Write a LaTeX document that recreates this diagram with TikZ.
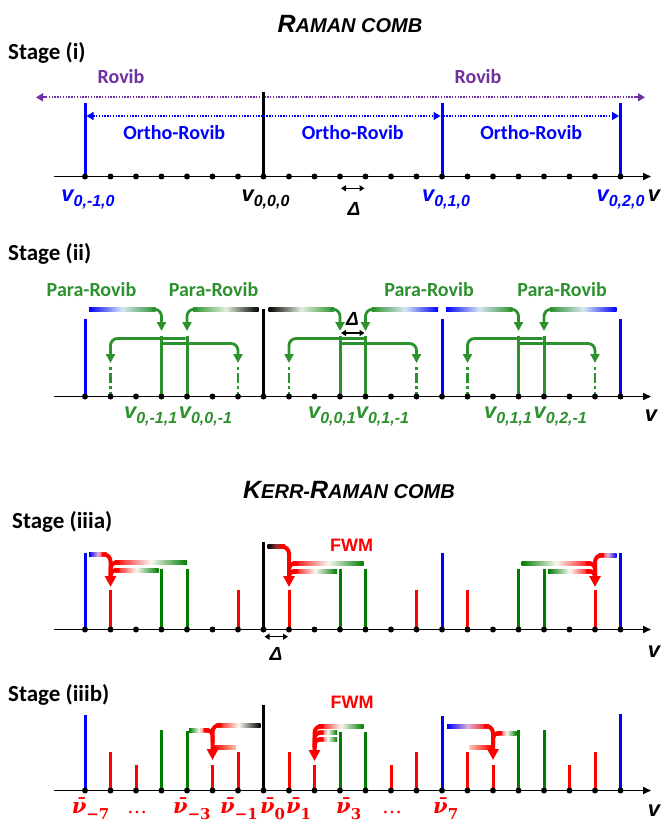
\documentclass[tikz,border=0pt]{standalone}
\usepackage{fontspec}
\setmainfont{Carlito}
\newfontfamily\arialf{Liberation Sans}
\newfontfamily\dvs{DejaVu Serif}
\usetikzlibrary{arrows.meta}
\definecolor{pblue}{RGB}{0,0,255}
\definecolor{tgreen}{RGB}{45,145,45}
\definecolor{pgreen}{RGB}{0,125,0}
\definecolor{pred}{RGB}{255,0,0}
\definecolor{ppurple}{RGB}{112,48,160}
\definecolor{midb}{RGB}{215,230,240}
\definecolor{midk}{RGB}{225,238,220}
\definecolor{midr}{RGB}{248,248,240}
\definecolor{midbr}{RGB}{225,175,215}
\definecolor{midkr}{RGB}{150,50,50}
\definecolor{lred}{RGB}{250,195,170}
\newcommand\vlab[1]{{\arialf\bfseries\itshape\fontsize{22}{24}\selectfont v\raisebox{-5pt}{\fontsize{16}{18}\selectfont #1}}}
\newcommand\nub[1]{{\dvs\bfseries\fontsize{21}{24}\selectfont{\itshape ν̄}\raisebox{-6pt}{\fontsize{15}{18}\selectfont #1}}}
\newcommand\tbig[1]{{\fontsize{25}{28}\selectfont #1}}
\newcommand\tsml[1]{{\fontsize{20}{22}\selectfont #1}}
\begin{document}
\begin{tikzpicture}[x=1pt,y=-1pt,
  declare function={ix(\i)=85+25.5*\i;},
  spec/.style={line width=3pt},
  dotn/.style={circle,fill=black,inner sep=0pt,minimum size=6pt},
  axisl/.style={draw=black,line width=1.8pt,-{Triangle[width=7pt,length=8pt]}},
  stagel/.style={anchor=base west,inner sep=0pt,font=\fontsize{23}{26}\selectfont\bfseries},
  lab/.style={anchor=base,inner sep=0pt,font=\fontsize{20}{24}\selectfont\bfseries},
  titl/.style={anchor=base,inner sep=0pt,font=\arialf\bfseries\itshape},
  arl/.style={anchor=base,inner sep=0pt,font=\arialf\bfseries\itshape\fontsize{19}{22}\selectfont},
  fwm/.style={anchor=base,inner sep=0pt,text=pred,font=\arialf\bfseries\fontsize{18}{20}\selectfont},
  vl/.style={anchor=base,inner sep=0pt},
  garrow/.style={draw=tgreen,line width=2.8pt,rounded corners=7pt,-{Triangle[width=9pt,length=9pt]}},
  rarrow/.style={draw=pred,line width=4pt,rounded corners=7pt,-{Triangle[width=11pt,length=11pt]}},
  rjoin/.style={draw=pred,line width=4pt,rounded corners=6pt},
  gdash/.style={draw=tgreen,line width=2.8pt,dash pattern=on 3pt off 3pt on 10pt off 3pt},
  darrow/.style={draw=black,line width=1.3pt,{Triangle[width=6pt,length=5pt]}-{Triangle[width=6pt,length=5pt]}},
  pdot/.style={draw=ppurple,line width=1.6pt,dash pattern=on 1.4pt off 1.4pt},
  ptip/.style={draw=ppurple,line width=1.6pt,-{Triangle[width=8pt,length=7pt]}},
  bdot/.style={draw=pblue,line width=1.6pt,dash pattern=on 1.4pt off 1.4pt},
  smalltip/.style={-{Triangle[width=8pt,length=7pt]}},
  smalltail/.style={{Triangle[width=8pt,length=7pt]}-},
  gb/.style args={#1/#2/#3}{left color=#1,right color=#3,middle color=#2},
]
\useasboundingbox (0,0) rectangle (661,821);
\fill[white] (0,0) rectangle (661,821);

% ================= Stage (i)
\node[titl] (title1) at (350,32.3) {\tbig{R}\tsml{AMAN COMB}};
\node[stagel] (st1) at (8,59.3) {Stage (i)};
\node[lab,text=ppurple] (rov1) at (121,84) {Rovib};
\node[lab,text=ppurple] (rov2) at (478,84) {Rovib};
\coordinate (rL) at (36,97.3); \coordinate (rR) at (645,97.3);
\coordinate (rL2) at (46,97.3); \coordinate (rR2) at (635,97.3);
\draw[pdot] (rL2) -- (rR2);
\draw[ptip] (rL2) -- (rL);
\draw[ptip] (rR2) -- (rR);
\foreach \i/\tp/\cl in {0/103.3/pblue,7/92.3/black,14/103.3/pblue,21/103/pblue}
  \draw[spec,\cl] ({ix(\i)},\tp) -- ({ix(\i)},176.5);
\coordinate (o0) at ({ix(0)+1.5},116); \coordinate (o7) at ({ix(7)},116);
\coordinate (o14) at ({ix(14)-1.5},116); \coordinate (o14b) at ({ix(14)+1.5},116);
\coordinate (o21) at ({ix(21)-1.5},116);
\draw[bdot,smalltail] (o0) -- (o7);
\draw[bdot,smalltip] (o7) -- (o14);
\draw[bdot,smalltip] (o14b) -- (o21);
\node[lab,text=pblue] (or1) at ({(ix(0)+ix(7))/2},139.3) {Ortho-Rovib};
\node[lab,text=pblue] (or2) at ({(ix(7)+ix(14))/2},139.3) {Ortho-Rovib};
\node[lab,text=pblue] (or3) at ({(ix(14)+ix(21))/2},139.3) {Ortho-Rovib};
\coordinate (ax1a) at (54,176.5); \coordinate (ax1b) at (651,176.5);
\draw[axisl] (ax1a) -- (ax1b);
\foreach \i in {0,...,21} \node[dotn] (da\i) at ({ix(\i)},176.5) {};
\node[vl,text=pblue] (v1) at ({ix(0)+3},201) {\vlab{0,-1,0}};
\node[vl] (v2) at ({ix(7)+2},201) {\vlab{0,0,0}};
\node[vl,text=pblue] (v3) at ({ix(14)+4},201) {\vlab{0,1,0}};
\node[vl,text=pblue] (v4) at ({ix(21)},201) {\vlab{0,2,0}};
\node[vl] (vend1) at (654,201) {\arialf\bfseries\itshape\fontsize{22}{24}\selectfont v};
\coordinate (dl1) at ({ix(10)+1},188.3); \coordinate (dr1) at ({ix(11)-1},188.3);
\draw[darrow] (dl1) -- (dr1);
\node[arl] (delta1) at (354,215) {Δ};

% ================= Stage (ii)
\node[stagel] (st2) at (8,260) {Stage (ii)};
\node[lab,text=tgreen] (pr1) at (91.5,296) {Para-Rovib};
\node[lab,text=tgreen] (pr2) at (213.5,296) {Para-Rovib};
\node[lab,text=tgreen] (pr3) at (429,296) {Para-Rovib};
\node[lab,text=tgreen] (pr4) at (562,296) {Para-Rovib};
\foreach \i/\tp/\cl in {0/319.3/pblue,3/335.5/tgreen,4/335.5/tgreen,7/309.3/black,10/335.5/tgreen,11/335.5/tgreen,14/319.3/pblue,17/335.5/tgreen,18/335.5/tgreen,21/319.3/pblue}
  \draw[spec,\cl] ({ix(\i)},\tp) -- ({ix(\i)},396.5);
\foreach \i in {1,6,8,13,15,20}
  \draw[gdash] ({ix(\i)},367) -- ({ix(\i)},396.5);
% top gradient bars
\shade[gb=pblue/midb/tgreen] ({ix(0)+4},307.6) rectangle ({ix(3)-6},311);
\shade[gb=tgreen/midk/black] ({ix(4)+6},307.6) rectangle ({ix(7)-5},311);
\shade[gb=black/midk/tgreen] ({ix(7)+5},307.6) rectangle ({ix(10)-6},311);
\shade[gb=tgreen/midb/pblue] ({ix(11)+6},307.6) rectangle ({ix(14)-4},311);
\shade[gb=pblue/midb/tgreen] ({ix(14)+4},307.6) rectangle ({ix(17)-6},311);
\shade[gb=tgreen/midb/pblue] ({ix(18)+6},307.6) rectangle ({ix(21)-4},311);
\foreach \b in {0,7,14}{
  \draw[garrow] ({ix(\b+3)-10},309.3) -- ({ix(\b+3)},309.3) -- ({ix(\b+3)},331);
  \draw[garrow] ({ix(\b+4)+10},309.3) -- ({ix(\b+4)},309.3) -- ({ix(\b+4)},331);
  \draw[garrow] ({ix(\b+4)-1.5},338.5) -- ({ix(\b+1)},338.5) -- ({ix(\b+1)},363);
  \draw[garrow] ({ix(\b+3)+1.5},343.5) -- ({ix(\b+6)},343.5) -- ({ix(\b+6)},363);
}
\coordinate (ax2a) at (54,396.5); \coordinate (ax2b) at (651,396.5);
\draw[axisl] (ax2a) -- (ax2b);
\foreach \i in {0,...,21} \node[dotn] (db\i) at ({ix(\i)},396.5) {};
\coordinate (dl2) at ({ix(10)+1},333); \coordinate (dr2) at ({ix(11)-1},333);
\draw[darrow] (dl2) -- (dr2);
\node[arl] (delta2) at (352.5,325) {Δ};
\node[vl,text=tgreen] (w1) at (178,418) {\vlab{0,-1,1}\,\vlab{0,0,-1}};
\node[vl,text=tgreen] (w2) at (358.5,418) {\vlab{0,0,1}\vlab{0,1,-1}};
\node[vl,text=tgreen] (w3) at (535.5,418) {\vlab{0,1,1}\,\vlab{0,2,-1}};
\node[vl] (vend2) at (651,421) {\arialf\bfseries\itshape\fontsize{22}{24}\selectfont v};

% ================= Stage (iiia)
\node[titl] (title2) at (349,498.3) {\tbig{K}\tsml{ERR-}\tbig{R}\tsml{AMAN COMB}};
\node[stagel] (st3) at (12,528.5) {Stage (iiia)};
\node[fwm] (fwm1) at (351.7,551.7) {FWM};
\foreach \i/\tp/\cl in {0/552.7/pblue,1/589.5/pred,3/568.5/pgreen,4/568.5/pgreen,6/589.5/pred,7/542.3/black,8/589.5/pred,10/568.5/pgreen,11/568.5/pgreen,13/589.5/pred,14/552.7/pblue,15/589.5/pred,17/568.5/pgreen,18/568.5/pgreen,20/589.5/pred,21/552.7/pblue}
  \draw[spec,\cl] ({ix(\i)},\tp) -- ({ix(\i)},629.5);
% group L
\shade[gb=pblue/midbr/pred] ({ix(0)+4},552.3) rectangle ({ix(1)-4},556.3);
\shade[gb=pred/midr/pgreen] ({ix(1)+4},560.7) rectangle ({ix(4)},564.7);
\shade[gb=pred/midr/pgreen] ({ix(1)+4},568) rectangle ({ix(3)-3},572);
\draw[rjoin] ({ix(1)+9},562.7) -- ({ix(1)},562.7) -- ({ix(1)},578);
\draw[rjoin] ({ix(1)+9},570) -- ({ix(1)},570) -- ({ix(1)},578);
\draw[rarrow] ({ix(1)-9},554.3) -- ({ix(1)},554.3) -- ({ix(1)},587);
% group M
\shade[gb=black/midkr/pred] ({ix(7)+4},544.7) rectangle ({ix(8)-4},548.7);
\shade[gb=pred/midr/pgreen] ({ix(8)+4},561.3) rectangle ({ix(11)-2},565.3);
\shade[gb=pred/midr/pgreen] ({ix(8)+4},569) rectangle ({ix(10)-3},573);
\draw[rjoin] ({ix(8)+9},563.3) -- ({ix(8)},563.3) -- ({ix(8)},578);
\draw[rjoin] ({ix(8)+9},571) -- ({ix(8)},571) -- ({ix(8)},578);
\draw[rarrow] ({ix(8)-9},546.7) -- ({ix(8)},546.7) -- ({ix(8)},587);
% group R
\shade[gb=pred/midbr/pblue] ({ix(20)+4},553) rectangle ({ix(21)-4},557);
\shade[gb=pgreen/midr/pred] ({ix(17)+3},561.3) rectangle ({ix(20)-4},565.3);
\shade[gb=pgreen/midr/pred] ({ix(18)+4},569) rectangle ({ix(20)-4},573);
\draw[rjoin] ({ix(20)-9},563.3) -- ({ix(20)},563.3) -- ({ix(20)},578);
\draw[rjoin] ({ix(20)-9},571) -- ({ix(20)},571) -- ({ix(20)},578);
\draw[rarrow] ({ix(20)+9},555) -- ({ix(20)},555) -- ({ix(20)},587);
\coordinate (ax3a) at (54,629.5); \coordinate (ax3b) at (651,629.5);
\draw[axisl] (ax3a) -- (ax3b);
\foreach \i in {0,...,21} \node[dotn] (dc\i) at ({ix(\i)},629.5) {};
\coordinate (dl3) at ({ix(7)+1},636.7); \coordinate (dr3) at ({ix(8)-1},636.7);
\draw[darrow] (dl3) -- (dr3);
\node[arl] (delta3) at (276,660) {Δ};
\node[vl] (vend3) at (654,657) {\arialf\bfseries\itshape\fontsize{22}{24}\selectfont v};

% ================= Stage (iiib)
\node[stagel] (st4) at (8,701.7) {Stage (iiib)};
\node[fwm] (fwm2) at (352,708) {FWM};
\foreach \i/\tp/\cl in {0/715/pblue,1/751.7/pred,2/765/pred,3/730/pgreen,4/730.5/pgreen,5/765/pred,6/752/pred,7/704.5/black,8/752/pred,9/765/pred,10/731.5/pgreen,11/731.5/pgreen,12/765/pred,13/752/pred,14/716/pblue,15/752/pred,16/765/pred,17/730/pgreen,18/730/pgreen,19/765/pred,20/752/pred,21/714/pblue}
  \draw[spec,\cl] ({ix(\i)},\tp) -- ({ix(\i)},790.5);
% group A (to 5)
\shade[gb=pred/midr/black] ({ix(5)+4},723) rectangle ({ix(7)-3},727);
\shade[gb=pgreen/midr/pred] ({ix(4)+2},728) rectangle ({ix(5)-4},732);
\shade[left color=pred,right color=lred] ({ix(5)+2},745.3) rectangle ({ix(6)-2},749.3);
\draw[rjoin] ({ix(5)-9},730) -- ({ix(5)},730) -- ({ix(5)},742);
\draw[rarrow] ({ix(5)+9},725) -- ({ix(5)},725) -- ({ix(5)},760);
% group B (to 9)
\shade[gb=pred/midr/pgreen] ({ix(9)+4},724) rectangle ({ix(11)-2},728);
\shade[gb=pred/midr/pgreen] ({ix(9)+4},730.7) rectangle ({ix(10)-3},734.7);
\shade[gb=pred/midr/pgreen] ({ix(9)+4},737.3) rectangle ({ix(10)-3},741.3);
\draw[rjoin] ({ix(9)+9},732.7) -- ({ix(9)},732.7) -- ({ix(9)},748);
\draw[rjoin] ({ix(9)+9},739.3) -- ({ix(9)},739.3) -- ({ix(9)},748);
\draw[rarrow] ({ix(9)+9},726) -- ({ix(9)},726) -- ({ix(9)},761);
% group C (to 16)
\shade[gb=pblue/midbr/pred] ({ix(14)+5},724) rectangle ({ix(16)-4},728);
\shade[gb=pred/midr/pgreen] ({ix(16)+4},731) rectangle ({ix(17)-2},735);
\shade[left color=lred,right color=pred] ({ix(15)+2},745.3) rectangle ({ix(16)-2},749.3);
\draw[rjoin] ({ix(16)+9},733) -- ({ix(16)},733) -- ({ix(16)},745);
\draw[rarrow] ({ix(16)-9},726) -- ({ix(16)},726) -- ({ix(16)},760);
\coordinate (ax4a) at (54,790.5); \coordinate (ax4b) at (651,790.5);
\draw[axisl] (ax4a) -- (ax4b);
\foreach \i in {0,...,21} \node[dotn] (dd\i) at ({ix(\i)},790.5) {};
\node[vl,text=pred] (n1) at (90.6,813) {\nub{−7}};
\node[vl,text=pred] (n2) at (137,813) {\dvs\fontsize{20}{24}\selectfont …};
\node[vl,text=pred] (n3) at (191.8,813) {\nub{−3}};
\node[vl,text=pred] (n4) at (239,813) {\nub{−1}};
\node[vl,text=pred] (n5) at (272.5,813) {\nub{0}};
\node[vl,text=pred] (n6) at (298.5,813) {\nub{1}};
\node[vl,text=pred] (n7) at (348.7,813) {\nub{3}};
\node[vl,text=pred] (n8) at (392,813) {\dvs\fontsize{20}{24}\selectfont …};
\node[vl,text=pred] (n9) at (445.7,813) {\nub{7}};
\node[vl] (vend4) at (654,816) {\arialf\bfseries\itshape\fontsize{22}{24}\selectfont v};
\end{tikzpicture}
\end{document}
